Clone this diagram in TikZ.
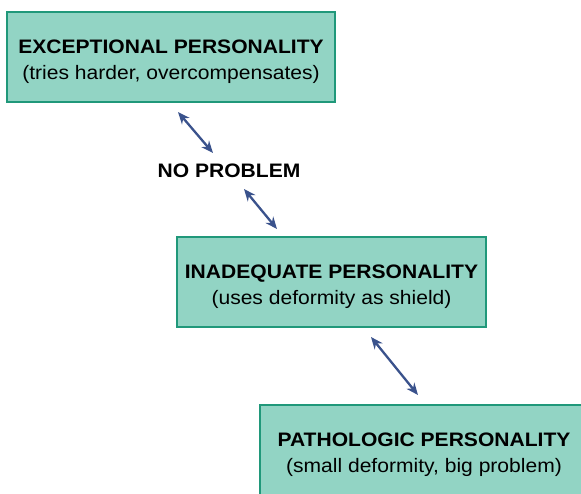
\documentclass[tikz,border=0pt]{standalone}
\usepackage{fontspec}
\setmainfont{Liberation Sans}[FakeStretch=1.08]
\usetikzlibrary{arrows.meta}
\definecolor{boxfill}{RGB}{146,212,196}
\definecolor{boxline}{RGB}{32,152,122}
\definecolor{linkblue}{RGB}{58,82,140}
\begin{document}
\begin{tikzpicture}[x=1pt,y=-1pt,
square/.style={
% The shape:
rectangle,
draw=boxline,
line width=2.2pt,
fill=boxfill,
minimum height=90pt,
inner sep=0pt,
align=center,
font=\fontsize{19.5}{26}\selectfont
},
label text/.style={
font=\fontsize{19.5}{26}\selectfont\bfseries
},
link/.style={
{Stealth[length=12pt,width=10pt]}-{Stealth[length=12pt,width=10pt]},
draw=linkblue,
line width=2.3pt
}
]
\clip (0,0) rectangle (581,493);
\fill[white] (0,0) rectangle (581,493);
% the three boxes
\node (exceptional) [square,minimum width=328pt] at (171,57)
  {\rule{0pt}{24pt}\textbf{EXCEPTIONAL PERSONALITY}\\(tries harder, overcompensates)};
\node (inadequate) [square,minimum width=309pt] at (331.5,282)
  {\rule{0pt}{24pt}\textbf{INADEQUATE PERSONALITY}\\(uses deformity as shield)};
\node (pathologic) [square,minimum width=328pt] at (424,450)
  {\rule{0pt}{24pt}\textbf{PATHOLOGIC PERSONALITY}\\(small deformity, big problem)};
\node (noproblem) [label text] at (229,171) {NO PROBLEM};
% arrow ends
\coordinate (ex1) at (178,112);
\coordinate (np1) at (213,153);
\coordinate (np2) at (244,189);
\coordinate (in1) at (277,229);
\coordinate (in2) at (371,337);
\coordinate (pa1) at (418,395);
\path (ex1) edge[link] (np1);
\path (np2) edge[link] (in1);
\path (in2) edge[link] (pa1);
\end{tikzpicture}
\end{document}
